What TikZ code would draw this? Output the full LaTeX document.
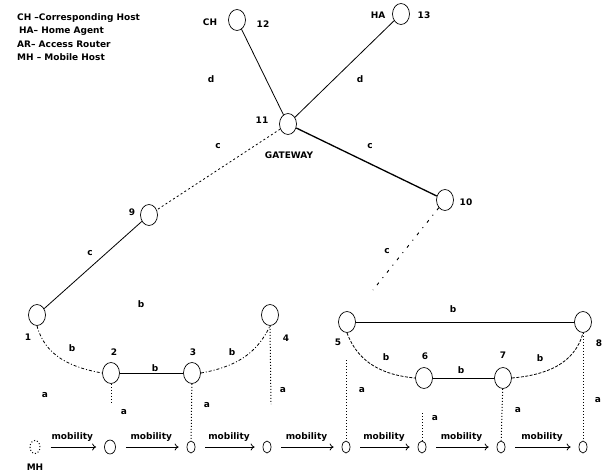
\documentclass[tikz,border=0pt]{standalone}
\usepackage{fontspec}
\setmainfont{DejaVu Sans}
\usetikzlibrary{shapes.geometric,arrows.meta}
\begin{document}
\begin{tikzpicture}[x=1pt,y=1pt,
  font=\bfseries\fontsize{9}{10}\selectfont,
  rnode/.style={draw, ellipse, minimum width=17pt, minimum height=21pt, inner sep=0pt, line width=0.7pt},
  mnode/.style={draw, ellipse, minimum width=8pt, minimum height=12pt, inner sep=0pt, line width=0.7pt},
  lbl/.style={inner sep=0pt},
  wired/.style={line width=0.8pt},
  dashdot/.style={line width=0.8pt, dash pattern=on 3pt off 2pt on 1pt off 2pt},
  dashline/.style={line width=0.8pt, dash pattern=on 3pt off 1.5pt},
  wireless/.style={line width=1pt, dash pattern=on 1pt off 2pt},
  mob/.style={-{To[length=4pt,width=7pt]}, line width=0.8pt, shorten <=10pt, shorten >=8pt},
]
\useasboundingbox (0,0) rectangle (607,-472);
% legend
\node[lbl, anchor=west] (l1) at (17,-18) {CH --Corresponding Host};
\node[lbl, anchor=west] (l2) at (19,-31) {HA-- Home Agent};
\node[lbl, anchor=west] (l3) at (17,-44) {AR-- Access Router};
\node[lbl, anchor=west] (l4) at (17,-57) {MH -- Mobile Host};
% router nodes
\node[rnode] (n12) at (237,-20) {};
\node[rnode] (n13) at (401,-14) {};
\node[rnode] (n11) at (288,-124) {};
\node[rnode] (n10) at (445,-200) {};
\node[rnode] (n9) at (149,-215) {};
\node[rnode] (n1) at (37,-315) {};
\node[rnode] (n4) at (270,-315) {};
\node[rnode] (n2) at (111,-373) {};
\node[rnode] (n3) at (192,-373) {};
\node[rnode] (n5) at (347,-322) {};
\node[rnode] (n8) at (583,-322) {};
\node[rnode] (n6) at (424,-378) {};
\node[rnode] (n7) at (503,-378) {};
% node labels
\node[lbl] (tCH) at (210,-22) {CH};
\node[lbl] (t12) at (263,-24) {12};
\node[lbl] (tHA) at (378,-15) {HA};
\node[lbl] (t13) at (424,-15) {13};
\node[lbl] (t11) at (262,-120) {11};
\node[lbl] (tGW) at (289,-155) {GATEWAY};
\node[lbl] (t10) at (466,-202) {10};
\node[lbl] (t9) at (132,-212) {9};
\node[lbl] (t1) at (28,-337) {1};
\node[lbl] (t2) at (114,-352) {2};
\node[lbl] (t3) at (193,-352) {3};
\node[lbl] (t4) at (286,-338) {4};
\node[lbl] (t5) at (338,-342) {5};
\node[lbl] (t6) at (425,-356) {6};
\node[lbl] (t7) at (503,-355) {7};
\node[lbl] (t8) at (599,-343) {8};
% wired links
\draw[wired] (n12) -- (n11);
\draw[wired] (n13) -- (n11);
\draw[line width=1.3pt] (n11) -- (n10);
\draw[line width=0.8pt, dash pattern=on 2pt off 2.5pt] (n11) -- (n9);
\draw[wired] (n9) -- (n1);
\coordinate (e10) at (373,-290);
\draw[line width=0.9pt, dash pattern=on 3pt off 6pt on 1pt off 6pt] (n10) -- (e10);
\draw[dashdot] (n1.south) to[out=-75,in=170] (n2.west);
\draw[wired] (n2) -- (n3);
\draw[dashdot] (n3.east) to[out=10,in=-115] (n4.south);
\draw[wired] (n5) -- (n8);
\draw[dashline] (n5.south) to[out=-70,in=175] (n6.west);
\draw[wired] (n6) -- (n7);
\draw[dashline] (n7.east) to[out=5,in=-105] (n8.south);
% edge labels
\node[lbl] (ld1) at (211,-79) {d};
\node[lbl] (ld2) at (360,-79) {d};
\node[lbl] (lc1) at (218,-146) {c};
\node[lbl] (lc2) at (370,-146) {c};
\node[lbl] (lc3) at (90,-253) {c};
\node[lbl] (lc4) at (387,-251) {c};
\node[lbl] (lb1) at (141,-304) {b};
\node[lbl] (lb2) at (72,-348) {b};
\node[lbl] (lb3) at (155,-368) {b};
\node[lbl] (lb4) at (232,-352) {b};
\node[lbl] (lb5) at (453,-309) {b};
\node[lbl] (lb6) at (386,-357) {b};
\node[lbl] (lb7) at (461,-370) {b};
\node[lbl] (lb8) at (540,-358) {b};
% mobile host positions
\node[draw, ellipse, dotted, line width=1pt, minimum width=10pt, minimum height=13pt, inner sep=0pt] (m0) at (35,-447) {};
\node[lbl] (tMH) at (35,-467) {MH};
\node[mnode, minimum width=11pt, minimum height=14pt] (m1) at (110,-447) {};
\node[mnode] (m2) at (191,-447) {};
\node[mnode] (m3) at (267,-447) {};
\node[mnode] (m4) at (346,-447) {};
\node[mnode] (m5) at (422,-447) {};
\node[mnode] (m6) at (501,-447) {};
\node[mnode] (m7) at (583,-447) {};
% wireless links
\coordinate (w2) at (111,-403);
\draw[wireless] (n2) -- (w2);
\draw[wireless] (n3) -- (m2);
\coordinate (w4) at (271,-404);
\draw[wireless] (n4.south) -- (w4);
\coordinate (w5) at (346,-360);
\draw[wireless] (w5) -- (m4);
\coordinate (w6) at (422,-413);
\draw[wireless] (w6) -- (m5);
\draw[wireless] (n7) -- (m6);
\draw[wireless] (n8) -- (m7);
% wireless labels
\node[lbl] (la0) at (45,-395) {a};
\node[lbl] (la1) at (124,-412) {a};
\node[lbl] (la2) at (207,-405) {a};
\node[lbl] (la3) at (283,-390) {a};
\node[lbl] (la4) at (362,-390) {a};
\node[lbl] (la5) at (435,-418) {a};
\node[lbl] (la6) at (518,-410) {a};
\node[lbl] (la7) at (598,-400) {a};
% mobility arrows
\draw[mob] (m0) -- node[above=2pt] {mobility} (m1);
\draw[mob] (m1) -- node[above=2pt] {mobility} (m2);
\draw[mob] (m2) -- node[above=2pt] {mobility} (m3);
\draw[mob] (m3) -- node[above=2pt] {mobility} (m4);
\draw[mob] (m4) -- node[above=2pt] {mobility} (m5);
\draw[mob] (m5) -- node[above=2pt] {mobility} (m6);
\draw[mob] (m6) -- node[above=2pt] {mobility} (m7);
\end{tikzpicture}
\end{document}
